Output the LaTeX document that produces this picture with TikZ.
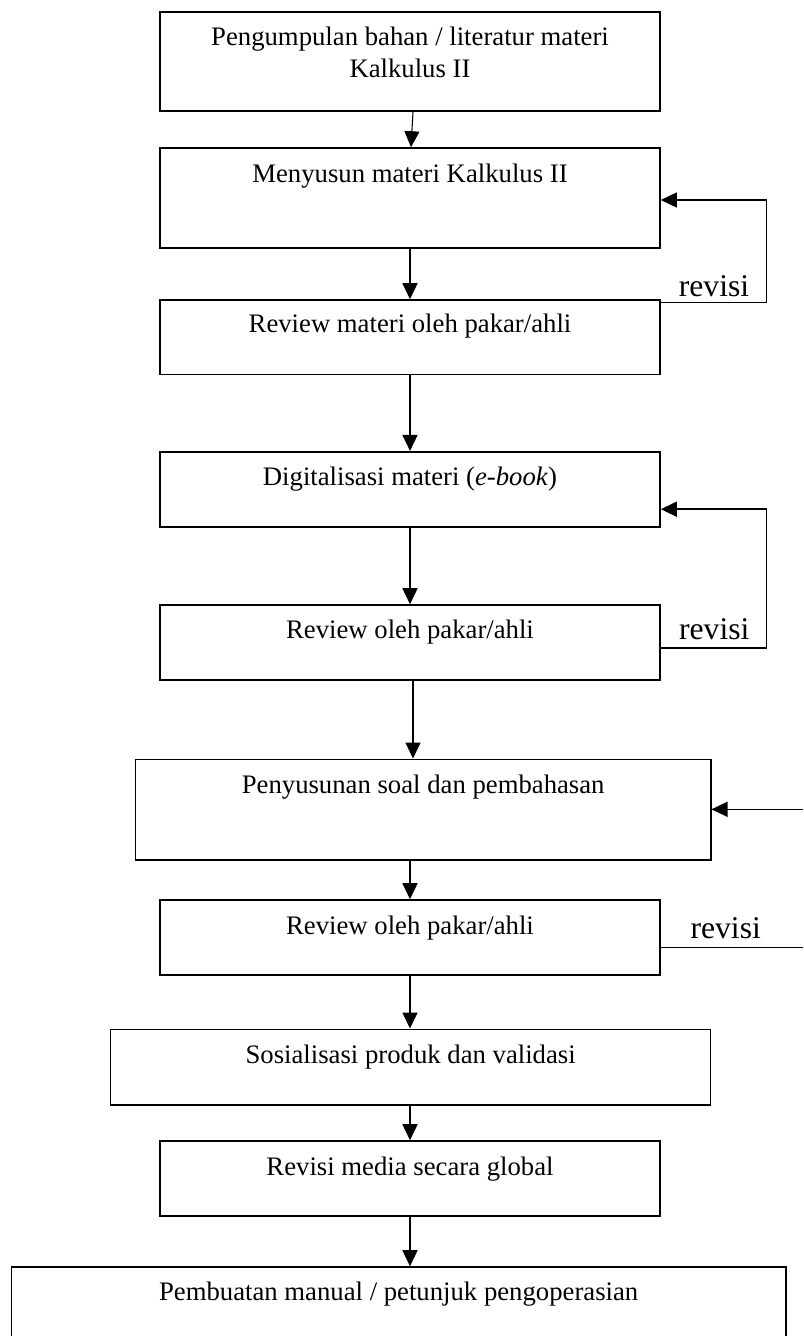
\documentclass[tikz,border=0pt]{standalone}
\usepackage{fontspec}
\setmainfont{Liberation Serif}
\usetikzlibrary{arrows.meta,positioning,calc}

\tikzset{
	stepbox/.style={draw, line width=0.9pt, inner sep=0pt, minimum width=100mm},
	steptext/.style={font=\fontsize{15.2}{18.2}\selectfont, align=center, inner sep=0pt},
	revlabel/.style={font=\fontsize{18}{21}\selectfont, inner sep=0pt, anchor=base},
	flow/.style={line width=0.9pt, -{Triangle[length=3.2mm,width=3mm]}},
	thinflow/.style={flow, line width=0.6pt},
	loopline/.style={line width=0.9pt},
}

\begin{document}
\begin{tikzpicture}[x=0.2mm,y=-0.2mm]
		\useasboundingbox (0,0) rectangle (803,1336);
		\clip (0,0) rectangle (803,1336);
		% boxes
		\node[stepbox, minimum height=19.8mm] (b1) at (410,61.5) {};
		\node[stepbox, minimum height=20mm] (b2) at (410,198) {};
		\node[stepbox, minimum height=14.9mm] (b3) at (410,337.25) {};
		\node[stepbox, minimum height=15mm] (b4) at (410,489.2) {};
		\node[stepbox, minimum height=15mm] (b5) at (410,642.5) {};
		\node[stepbox, minimum height=20.14mm, minimum width=115mm] (b6) at (423.2,809.65) {};
		\node[stepbox, minimum height=14.94mm] (b7) at (410,937.35) {};
		\node[stepbox, minimum height=15.14mm, minimum width=120mm] (b8) at (410.65,1067.15) {};
		\node[stepbox, minimum height=15mm] (b9) at (410,1178.5) {};
		\node[stepbox, minimum height=20.6mm, minimum width=154.9mm] (b10) at (398.65,1318.5) {};
		% texts
		\node[steptext] (t1) at ([yshift=-8.2mm]b1.north) {Pengumpulan bahan / literatur materi\\Kalkulus II};
		\node[steptext, anchor=base] (t2) at ([yshift=-7mm]b2.north) {Menyusun materi Kalkulus II};
		\node[steptext, anchor=base] (t3) at ([yshift=-6.7mm]b3.north) {Review materi oleh pakar/ahli};
		\node[steptext, anchor=base] (t4) at ([yshift=-7mm]b4.north) {Digitalisasi materi (\textit{e-book})};
		\node[steptext, anchor=base] (t5) at ([yshift=-6.8mm]b5.north) {Review oleh pakar/ahli};
		\node[steptext, anchor=base] (t6) at ([yshift=-6.9mm]b6.north) {Penyusunan soal dan pembahasan};
		\node[steptext, anchor=base] (t7) at ([yshift=-7mm]b7.north) {Review oleh pakar/ahli};
		\node[steptext, anchor=base] (t8) at ([yshift=-7mm]b8.north) {Sosialisasi produk dan validasi};
		\node[steptext, anchor=base] (t9) at ([yshift=-7mm]b9.north) {Revisi media secara global};
		\node[steptext, anchor=base] (t10) at ([yshift=-6.8mm]b10.north) {Pembuatan manual / petunjuk pengoperasian};
		% main flow
		\draw[thinflow] ([xshift=0.6mm]b1.south) -- ([xshift=0.2mm]b2.north);
		\draw[flow] (b2.south) -- (b3.north);
		\draw[flow] (b3.south) -- (b4.north);
		\draw[flow] (b4.south) -- (b5.north);
		\draw[thinflow] ([xshift=0.6mm]b5.south) -- ([xshift=0.6mm]b5.south |- b6.north);
		\draw[flow] (b7.north |- b6.south) -- (b7.north);
		\draw[flow] (b7.south) -- (b7.south |- b8.north);
		\draw[flow] (b9.north |- b8.south) -- (b9.north);
		\draw[flow] (b9.south) -- (b9.south |- b10.north);
		% revision loops
		\coordinate (l1b) at (766.5,302.3);
		\coordinate (l1t) at (766.5,200);
		\coordinate (l2b) at (766.5,647.7);
		\coordinate (l2t) at (766.5,509.2);
		\coordinate (e3b) at (803,947.5);
		\coordinate (e3t) at (803,809.3);
		\draw[flow] (b3.east |- l1b) -- (l1b) -- (l1t) -- (b2.east |- l1t);
		\draw[flow] (b5.east |- l2b) -- (l2b) -- (l2t) -- (b4.east |- l2t);
		\draw[loopline] (b7.east |- e3b) -- (e3b);
		\draw[flow] (e3t) -- (b6.east |- e3t);
		\node[revlabel] (r1) at (714,296) {revisi};
		\node[revlabel] (r2) at (714.3,639) {revisi};
		\node[revlabel] (r3) at (725.7,938.3) {revisi};
\end{tikzpicture}
\end{document}
